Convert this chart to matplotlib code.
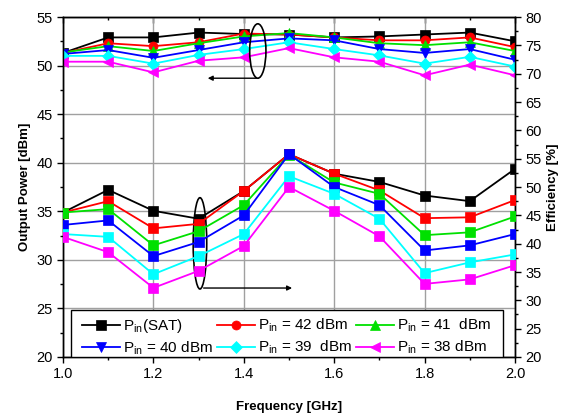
import matplotlib
matplotlib.use("Agg")
import matplotlib.pyplot as plt
from matplotlib.patches import Ellipse, Rectangle
from matplotlib.ticker import MultipleLocator

plt.rcParams['font.family'] = ['Liberation Sans', 'DejaVu Sans']
plt.rcParams['mathtext.fontset'] = 'custom'
plt.rcParams['mathtext.rm'] = 'Liberation Sans'
plt.rcParams['mathtext.it'] = 'Liberation Sans:italic'
plt.rcParams['mathtext.bf'] = 'Liberation Sans:bold'

freq = [1.0, 1.1, 1.2, 1.3, 1.4, 1.5, 1.6, 1.7, 1.8, 1.9, 2.0]

labels = [r'P$_{\rm in}$(SAT)', r'P$_{\rm in}$ = 42 dBm', r'P$_{\rm in}$ = 41  dBm',
          r'P$_{\rm in}$ = 40 dBm', r'P$_{\rm in}$ = 39  dBm', r'P$_{\rm in}$ = 38 dBm']
colors = ['#000000', '#ff0000', '#00e000', '#0000ff', '#00ffff', '#ff00ff']
markers = ['s', 'o', '^', 'v', 'D', '<']

# Output power [dBm] (left axis)
pout_sat = [51.3, 52.9, 52.9, 53.4, 53.25, 53.2, 52.9, 53.0, 53.2, 53.4, 52.5]
pout_42 = [51.3, 52.3, 52.0, 52.4, 53.3, 53.2, 52.9, 52.6, 52.6, 52.9, 51.9]
pout_41 = [51.35, 52.0, 51.5, 52.3, 53.0, 53.35, 52.9, 52.3, 52.1, 52.4, 51.5]
pout_40 = [51.2, 51.6, 50.8, 51.6, 52.4, 52.8, 52.6, 51.7, 51.3, 51.7, 50.6]
pout_39 = [51.0, 51.0, 50.2, 51.1, 51.7, 52.4, 51.7, 51.05, 50.2, 50.9, 49.9]
pout_38 = [50.4, 50.4, 49.3, 50.5, 50.85, 51.8, 50.85, 50.4, 49.0, 50.1, 49.0]

# Efficiency [%] (right axis)
eff_sat = [45.5, 49.5, 45.8, 44.4, 49.3, 55.8, 52.35, 50.9, 48.5, 47.5, 53.2]
eff_42 = [45.5, 47.5, 42.7, 43.5, 49.3, 55.8, 52.35, 49.4, 44.5, 44.65, 47.7]
eff_41 = [45.5, 46.1, 39.7, 42.2, 46.8, 55.7, 50.8, 48.8, 41.5, 42.0, 44.8]
eff_40 = [43.3, 44.1, 37.8, 40.3, 45.0, 55.8, 50.0, 46.8, 38.8, 39.7, 41.7]
eff_39 = [41.7, 41.2, 34.6, 37.8, 41.7, 51.9, 48.8, 44.4, 34.8, 36.7, 38.1]
eff_38 = [41.2, 38.5, 32.2, 35.2, 39.6, 50.0, 45.8, 41.3, 32.9, 33.7, 36.2]

pout = [pout_sat, pout_42, pout_41, pout_40, pout_39, pout_38]
eff = [eff_sat, eff_42, eff_41, eff_40, eff_39, eff_38]

fig = plt.figure(figsize=(5.61, 4.13), dpi=100)
ax = fig.add_axes([0.1123, 0.1356, 0.8057, 0.8232])
ax2 = ax.twinx()

handles = []
for y, c, m, lab in zip(pout, colors, markers, labels):
    h, = ax.plot(freq, y, color=c, marker=m, markersize=6.5, lw=1.3,
                 markeredgewidth=0.5, label=lab, zorder=3)
    handles.append(h)
for y, c in zip(eff, colors):
    ax2.plot(freq, y, color=c, marker='s', markersize=6.5, lw=1.3,
             markeredgewidth=0.5, zorder=3)

ax.set_xlim(1.0, 2.0)
ax.set_ylim(20, 55)
ax2.set_ylim(20, 80)

ax.xaxis.set_major_locator(MultipleLocator(0.2))
ax.xaxis.set_minor_locator(MultipleLocator(0.1))
ax.yaxis.set_major_locator(MultipleLocator(5))
ax.yaxis.set_minor_locator(MultipleLocator(2.5))
ax2.yaxis.set_major_locator(MultipleLocator(5))
ax2.yaxis.set_minor_locator(MultipleLocator(2.5))
ax.xaxis.set_major_formatter(matplotlib.ticker.FormatStrFormatter('%.1f'))

ax.grid(True, which='major', color='#a0a0a0', lw=1.0, zorder=0)
ax.set_axisbelow(True)

for a in (ax, ax2):
    a.tick_params(which='major', direction='out', length=4, width=1, labelsize=10.5)
    a.tick_params(which='minor', direction='out', length=2.5, width=1)
    for s in a.spines.values():
        s.set_linewidth(1.0)

sec = ax.secondary_xaxis('top')
sec.xaxis.set_major_locator(MultipleLocator(0.2))
sec.xaxis.set_minor_locator(MultipleLocator(0.1))
sec.tick_params(which='major', direction='in', length=4, width=1, labeltop=False)
sec.tick_params(which='minor', direction='in', length=2.5, width=1)

ax.set_xlabel('Frequency [GHz]', fontsize=9.5, fontweight='bold', labelpad=14)
ax.set_ylabel('Output Power [dBm]', fontsize=9.5, fontweight='bold', labelpad=4)
ax2.set_ylabel('Efficiency [%]', fontsize=9.5, fontweight='bold', labelpad=4)

# annotations (ellipses and arrows)
top_ell_xy, top_ell_w, top_ell_h = (1.431, 51.5), 0.036, 5.6
bot_ell_xy, bot_ell_w, bot_ell_h = (1.303, 31.7), 0.03, 9.4
ax.add_patch(Ellipse(top_ell_xy, top_ell_w, top_ell_h, fill=False, ec='black', lw=1.2, zorder=5))
ax.add_patch(Ellipse(bot_ell_xy, bot_ell_w, bot_ell_h, fill=False, ec='black', lw=1.2, zorder=5))
ax.annotate('', xy=(1.314, 48.7), xytext=(1.434, 48.7),
            arrowprops=dict(arrowstyle='-|>', color='black', lw=1.0, mutation_scale=7), zorder=5)
ax.annotate('', xy=(1.513, 27.1), xytext=(1.305, 27.1),
            arrowprops=dict(arrowstyle='-|>', color='black', lw=1.0, mutation_scale=7), zorder=5)

# legend box
frame = Rectangle((0.0177, 0.0), 0.956, 0.138, transform=ax2.transAxes,
                  facecolor='white', edgecolor='black', lw=1.0, zorder=8)
ax2.add_patch(frame)

order = [0, 3, 1, 4, 2, 5]
leg = ax2.legend([handles[i] for i in order], [labels[i] for i in order],
                 ncol=3, loc='upper left', bbox_to_anchor=(0.042, 0.118),
                 fontsize=11, frameon=False, handlelength=2.5,
                 handletextpad=0.2, columnspacing=0.25, borderaxespad=0.0,
                 labelspacing=0.3, borderpad=0.0)
leg.set_zorder(10)

fig.savefig('out.png', dpi=100)
